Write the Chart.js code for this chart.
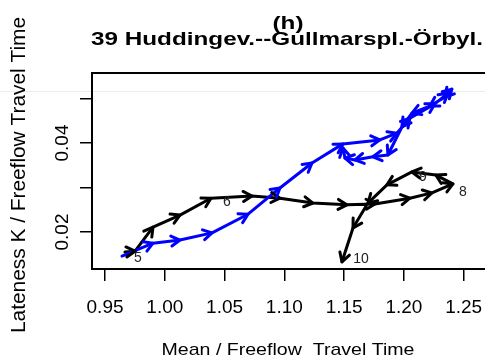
<!DOCTYPE html>
<html>
<head>
<meta charset="utf-8">
<script src="https://cdn.jsdelivr.net/npm/chart.js@4.4.0/dist/chart.umd.min.js"></script>
<style>
  html, body { margin: 0; padding: 0; background: #fff; overflow: hidden; width: 485px; height: 359px; }
</style>
</head>
<body>
<canvas id="c" width="500" height="359"></canvas>
<script>
// values
const blackX = [0.9667, 0.9751, 0.9901, 1.0127, 1.0386, 1.0729, 1.0963, 1.1239, 1.1523, 1.1757,
  1.2050, 1.2234, 1.2410, 1.2267, 1.2067, 1.1858, 1.1699, 1.1574, 1.1482];
const blackY = [0.0155, 0.0157, 0.0211, 0.0238, 0.0276, 0.0281, 0.0276, 0.0265, 0.0261, 0.0263,
  0.0276, 0.0288, 0.0308, 0.0328, 0.0335, 0.0306, 0.0265, 0.0209, 0.0133];
const blackHours = ['5', '', '', '', '6', '', '', '', '', '', '', '', '8', '', '9', '', '', '', '10'];

const blueX = [0.9642, 0.9901, 1.0127, 1.0395, 1.0696, 1.0963, 1.1231, 1.1490, 1.1799, 1.1941,
  1.2050, 1.2259, 1.2368, 1.2401, 1.2343, 1.2217, 1.2067, 1.1983, 1.1866, 1.1741, 1.1590, 1.1507, 1.1490];
const blueY = [0.0146, 0.0175, 0.0182, 0.0198, 0.0240, 0.0299, 0.0355, 0.0398, 0.0407, 0.0422,
  0.0456, 0.0488, 0.0512, 0.0521, 0.0503, 0.0483, 0.0467, 0.0436, 0.0373, 0.0369, 0.0362, 0.0366, 0.0389];

const xTicks = [0.95, 1.00, 1.05, 1.10, 1.15, 1.20, 1.25];
const xTickLabels = ['0.95', '1.00', '1.05', '1.10', '1.15', '1.20', '1.25'];
const yTicks = [0.02, 0.03, 0.04, 0.05];
const yTickLabels = ['0.02', '', '0.04', ''];

const titleLines = ['(h)', '39 Huddingev.--Gullmarspl.-Örbyl.'];
const xTitle = 'Mean / Freeflow  Travel Time';
const yTitle = 'Lateness K / Freeflow Travel Time';

const toPoints = (xs, ys) => xs.map((x, i) => ({ x: x, y: ys[i] }));

const FONT = '"Liberation Sans", Arial, sans-serif';

// text squeezed/stretched to a given width, centred on x
function fitText(ctx, text, x, y, font, width) {
  ctx.save();
  ctx.font = font;
  const w = ctx.measureText(text).width;
  ctx.translate(x, y);
  ctx.scale(width / w, 1);
  ctx.textAlign = 'center';
  ctx.fillText(text, 0, 0);
  ctx.restore();
}

// arrowheads at the end of every segment, like R's arrows()
const arrowPlugin = {
  id: 'arrows',
  afterDatasetsDraw(chart) {
    const ctx = chart.ctx;
    [1, 0].forEach(di => {
      const meta = chart.getDatasetMeta(di);
      const color = chart.data.datasets[di].borderColor;
      ctx.save();
      ctx.strokeStyle = color;
      ctx.lineWidth = 3;
      ctx.lineCap = 'round';
      ctx.lineJoin = 'round';
      for (let i = 1; i < meta.data.length; i++) {
        const p0 = meta.data[i - 1], p1 = meta.data[i];
        const a = Math.atan2(p1.y - p0.y, p1.x - p0.x);
        const len = 10, spread = Math.PI / 6;
        ctx.beginPath();
        ctx.moveTo(p1.x - len * Math.cos(a - spread), p1.y - len * Math.sin(a - spread));
        ctx.lineTo(p1.x, p1.y);
        ctx.lineTo(p1.x - len * Math.cos(a + spread), p1.y - len * Math.sin(a + spread));
        ctx.stroke();
      }
      ctx.restore();
    });

    // hour labels next to the black path
    const meta = chart.getDatasetMeta(1);
    const offs = { '5': [13, 6], '6': [16, 4], '8': [10, 8], '9': [11, 5], '10': [19, -3] };
    ctx.save();
    ctx.fillStyle = '#222';
    ctx.font = '14px ' + FONT;
    ctx.textAlign = 'center';
    ctx.textBaseline = 'middle';
    blackHours.forEach((h, i) => {
      if (!h) return;
      const p = meta.data[i];
      const o = offs[h];
      ctx.fillText(h, p.x + o[0], p.y + o[1]);
    });
    ctx.restore();
  }
};

const framePlugin = {
  id: 'frame',
  beforeDraw(chart) {
    const ctx = chart.ctx;
    ctx.save();
    ctx.fillStyle = '#fff';
    ctx.fillRect(0, 0, chart.width, chart.height);
    ctx.strokeStyle = '#ececec';
    ctx.lineWidth = 1;
    ctx.beginPath();
    ctx.moveTo(0, 91.5);
    ctx.lineTo(chart.width, 91.5);
    ctx.stroke();
    ctx.restore();
  },
  afterDraw(chart) {
    const ctx = chart.ctx;
    const a = chart.chartArea;
    const ys = chart.scales.y;
    ctx.save();
    ctx.strokeStyle = '#000';
    ctx.lineWidth = 2;
    ctx.strokeRect(a.left, a.top, a.right - a.left, a.bottom - a.top);

    // rotated y tick labels
    ctx.fillStyle = '#000';
    ctx.font = '19px ' + FONT;
    ctx.textAlign = 'center';
    ctx.textBaseline = 'middle';
    yTicks.forEach((v, i) => {
      if (!yTickLabels[i]) return;
      ctx.save();
      ctx.translate(63, ys.getPixelForValue(v));
      ctx.rotate(-Math.PI / 2);
      ctx.fillText(yTickLabels[i], 0, 0);
      ctx.restore();
    });

    // titles
    ctx.textBaseline = 'alphabetic';
    fitText(ctx, titleLines[0], a.left + 196, 29, 'bold 19px ' + FONT, 31);
    fitText(ctx, titleLines[1], a.left + 195, 45, 'bold 19px ' + FONT, 392);
    fitText(ctx, xTitle, a.left + 196, 355, '17px ' + FONT, 253);

    ctx.save();
    ctx.translate(25, 175);
    ctx.rotate(-Math.PI / 2);
    fitText(ctx, yTitle, 0, 0, '20px ' + FONT, 316);
    ctx.restore();
    ctx.restore();
  }
};

new Chart(document.getElementById('c'), {
  type: 'scatter',
  data: {
    datasets: [
      {
        data: toPoints(blueX, blueY),
        borderColor: '#0000ff',
        showLine: true,
        borderWidth: 3,
        pointRadius: 0,
        tension: 0,
        borderCapStyle: 'round',
        borderJoinStyle: 'round'
      },
      {
        data: toPoints(blackX, blackY),
        borderColor: '#000000',
        showLine: true,
        borderWidth: 3,
        pointRadius: 0,
        tension: 0,
        borderCapStyle: 'round',
        borderJoinStyle: 'round'
      }
    ]
  },
  options: {
    responsive: false,
    animation: false,
    events: [],
    layout: { padding: { top: 73, right: 10, left: 0, bottom: 0 } },
    plugins: {
      legend: { display: false },
      title: { display: false },
      tooltip: { enabled: false }
    },
    scales: {
      x: {
        type: 'linear',
        min: 0.9391,
        max: 1.272,
        afterBuildTicks: s => { s.ticks = xTicks.map(v => ({ value: v })); },
        afterFit: s => { s.height = 90; },
        grid: { drawOnChartArea: false, drawTicks: true, tickLength: 12, color: '#000', lineWidth: 1.5 },
        border: { display: false },
        ticks: {
          autoSkip: false,
          maxRotation: 0,
          padding: 15,
          color: '#000',
          font: { size: 19, family: FONT },
          callback: (v) => xTickLabels[xTicks.indexOf(v)]
        }
      },
      y: {
        type: 'linear',
        min: 0.01169,
        max: 0.05573,
        afterBuildTicks: s => { s.ticks = yTicks.map(v => ({ value: v })); },
        afterFit: s => { s.width = 92; },
        grid: { drawOnChartArea: false, drawTicks: true, tickLength: 12, color: '#000', lineWidth: 1.5 },
        border: { display: false },
        ticks: {
          autoSkip: false,
          color: '#000',
          font: { size: 19, family: FONT },
          callback: () => ''
        }
      }
    }
  },
  plugins: [framePlugin, arrowPlugin]
});
</script>
</body>
</html>
